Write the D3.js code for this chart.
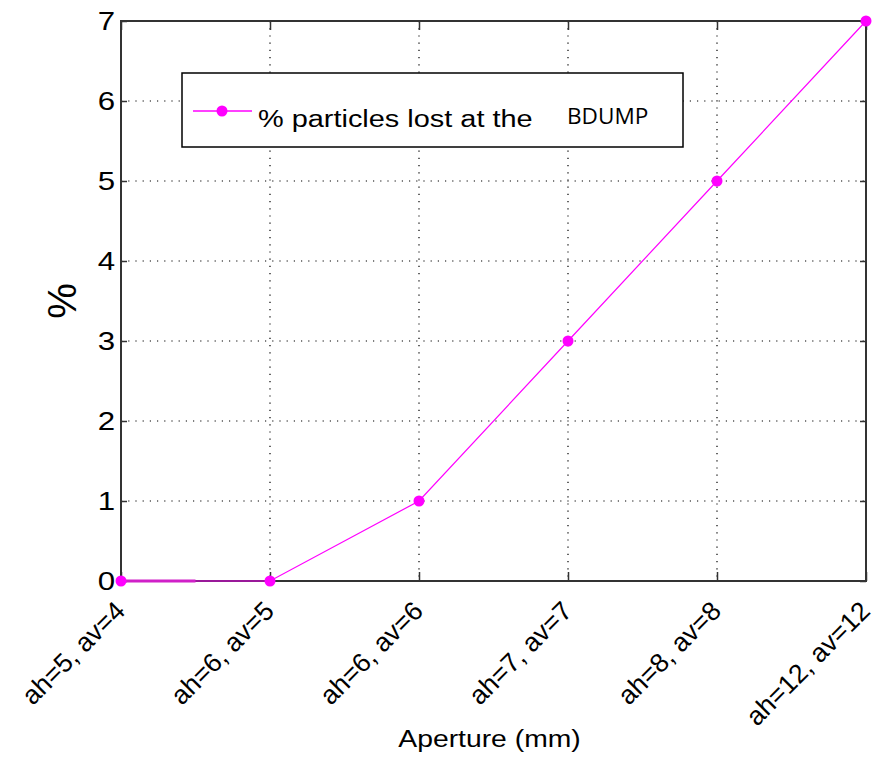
<!DOCTYPE html>
<html>
<head>
<meta charset="utf-8">
<script src="https://cdn.jsdelivr.net/npm/d3@7"></script>
<style>
  html, body { margin: 0; padding: 0; background: #fff; }
  svg text { font-family: "Liberation Sans", Arial, sans-serif; fill: #000; }
</style>
</head>
<body>
<svg id="chart" width="879" height="758"></svg>
<script>
// ---- data ----
const categories = ["ah=5, av=4", "ah=6, av=5", "ah=6, av=6", "ah=7, av=7", "ah=8, av=8", "ah=12, av=12"];
const lossValues = [0, 0, 1, 3, 5, 7];
const yTicks = [0, 1, 2, 3, 4, 5, 6, 7];
const stubX = [0, 0.5];      // short thick segment along zero (index units)
const stubY = [0, 0];
const legendMain = "% particles lost at the";
const legendTail = "BDUMP";
const xTitle = "Aperture (mm)";
const yTitle = "%";

// ---- layout ----
const plot = { left: 121, right: 866, top: 21, bottom: 581 };
const magenta = "#ff00ff";
const stretch = 1.18;

const svg = d3.select("#chart");

const x = d3.scaleLinear().domain([0, categories.length - 1]).range([plot.left, plot.right]);
const y = d3.scaleLinear().domain([0, 7]).range([plot.bottom, plot.top]);

// grid lines
const grid = svg.append("g");
grid.selectAll("line.gx").data(d3.range(1, categories.length - 1)).join("line")
  .attr("x1", d => x(d)).attr("x2", d => x(d))
  .attr("y1", plot.top).attr("y2", plot.bottom)
  .attr("stroke", "#000").attr("stroke-width", 1.2).attr("stroke-dasharray", "1.2,6");
grid.selectAll("line.gy").data(yTicks.slice(1, -1)).join("line")
  .attr("x1", plot.left).attr("x2", plot.right)
  .attr("y1", d => y(d)).attr("y2", d => y(d))
  .attr("stroke", "#000").attr("stroke-width", 1.2).attr("stroke-dasharray", "1.2,6");

// axes via d3
const yAxisL = d3.axisLeft(y).tickValues(yTicks).tickSize(-6).tickPadding(6).tickFormat(d3.format("d"));
const yAxisR = d3.axisRight(y).tickValues(yTicks).tickSize(-6).tickFormat("");
const xAxisB = d3.axisBottom(x).tickValues(d3.range(categories.length)).tickSize(-9).tickFormat("");
const xAxisT = d3.axisTop(x).tickValues(d3.range(categories.length)).tickSize(-9).tickFormat("");

function styleAxis(g) {
  g.select(".domain").remove();
  g.selectAll(".tick line").attr("stroke", "#333").attr("stroke-width", 1.5);
}

const gL = svg.append("g").attr("transform", `translate(${plot.left},0)`).call(yAxisL).call(styleAxis);
gL.selectAll(".tick text")
  .attr("font-family", "Liberation Sans, Arial, sans-serif")
  .attr("font-size", 25).attr("fill", "#000")
  .attr("x", -6 / 1.25)
  .attr("transform", "scale(1.25,1)");
svg.append("g").attr("transform", `translate(${plot.right},0)`).call(yAxisR).call(styleAxis);
svg.append("g").attr("transform", `translate(0,${plot.bottom})`).call(xAxisB).call(styleAxis);
svg.append("g").attr("transform", `translate(0,${plot.top})`).call(xAxisT).call(styleAxis);

// box
svg.append("rect")
  .attr("x", plot.left).attr("y", plot.top)
  .attr("width", plot.right - plot.left).attr("height", plot.bottom - plot.top)
  .attr("fill", "none").attr("stroke", "#333").attr("stroke-width", 2);

// rotated x labels
svg.append("g").selectAll("text").data(categories).join("text")
  .attr("transform", (d, i) => `translate(${x(i) - 1},${plot.bottom + 25}) rotate(-45)`)
  .attr("text-anchor", "end")
  .attr("dy", "0.35em")
  .attr("font-size", 26.5)
  .text(d => d);

// axis titles
svg.append("text")
  .attr("transform", `translate(${(plot.left + plot.right) / 2 - 4},${747}) scale(${stretch},1)`)
  .attr("text-anchor", "middle")
  .attr("font-size", 24)
  .text(xTitle);

svg.append("text")
  .attr("transform", `translate(62,301) rotate(-90)`)
  .attr("text-anchor", "middle")
  .attr("dy", "0.35em")
  .attr("font-size", 40)
  .text(yTitle);

// data line
const line = d3.line().x((d, i) => x(i)).y(d => y(d));
svg.append("path").datum(lossValues)
  .attr("d", line).attr("fill", "none")
  .attr("stroke", magenta).attr("stroke-width", 1.2);

// stub thick segment
svg.append("path").datum(stubX.map((v, i) => [v, stubY[i]]))
  .attr("d", d3.line().x(d => x(d[0])).y(d => y(d[1])))
  .attr("stroke", "#d020c8").attr("stroke-width", 3).attr("fill", "none");

svg.append("g").selectAll("circle").data(lossValues).join("circle")
  .attr("cx", (d, i) => x(i)).attr("cy", d => y(d)).attr("r", 5.5)
  .attr("fill", magenta);

// legend
const lg = svg.append("g");
lg.append("rect").attr("x", 182).attr("y", 73).attr("width", 501).attr("height", 74)
  .attr("fill", "#fff").attr("stroke", "#000").attr("stroke-width", 1.5);
lg.append("line").attr("x1", 193).attr("x2", 252).attr("y1", 111).attr("y2", 111)
  .attr("stroke", magenta).attr("stroke-width", 1.5);
lg.append("circle").attr("cx", 222).attr("cy", 111).attr("r", 5.5).attr("fill", magenta);
lg.append("text")
  .attr("transform", `translate(258,127) scale(${stretch},1)`)
  .attr("font-size", 24.5)
  .text(legendMain);
lg.append("text")
  .attr("transform", "translate(567,124) scale(1.05,1)")
  .style("font-family", "'Open Sans', sans-serif")
  .attr("font-size", 21.5)
  .text(legendTail);
</script>
</body>
</html>
